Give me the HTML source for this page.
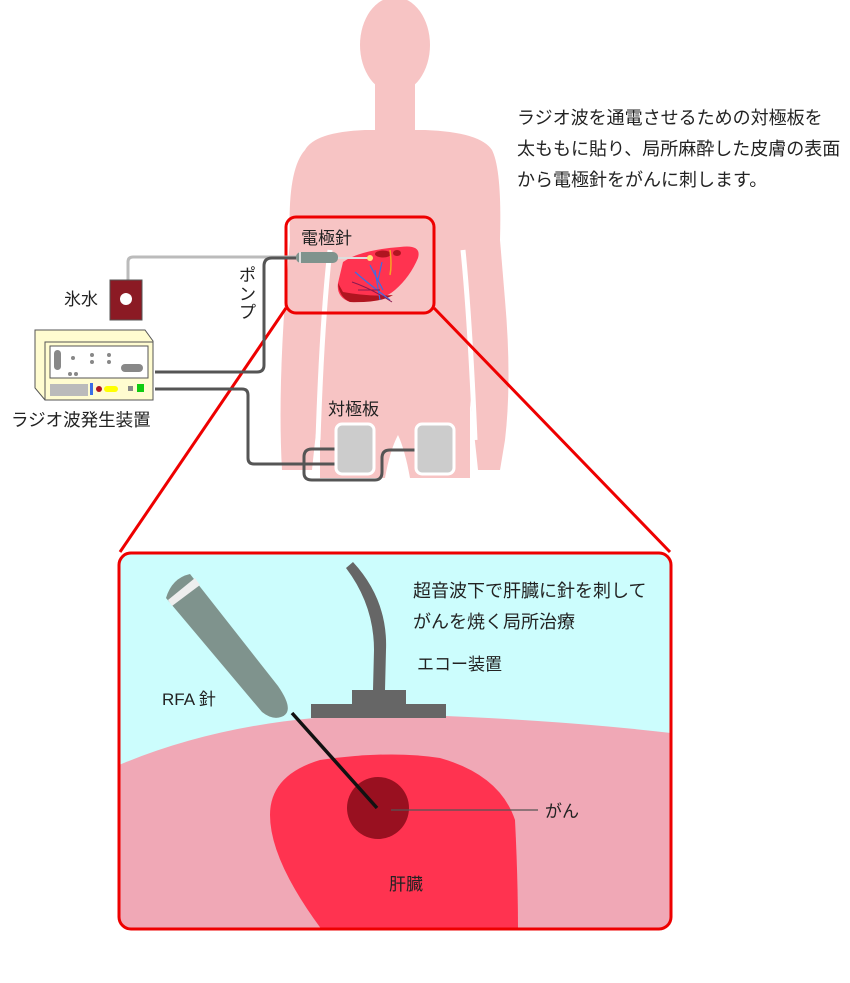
<!DOCTYPE html>
<html><head><meta charset="utf-8"><style>
body{margin:0;background:#fff;width:850px;height:978px;overflow:hidden}
svg text{font-family:"Liberation Sans","Noto Sans CJK JP",sans-serif;fill:#222}
</style></head><body>
<svg width="850" height="978" viewBox="0 0 850 978" xmlns="http://www.w3.org/2000/svg">
<g fill="#f7c4c4">
<ellipse cx="395" cy="45" rx="35" ry="48"/>
<rect x="375" y="75" width="40" height="65"/>
<path d="M305 150 Q315 132 365 130 L425 130 Q480 132 492 150 Q502 170 500 240 L505 300 Q512 380 505 440 L500 470 L478 470 Q475 440 470 400 L470 478 L410 478 Q405 450 398 435 Q390 450 385 478 L320 478 L320 400 Q315 440 312 470 L282 470 Q278 400 285 300 L290 240 Q287 170 305 150Z"/>
</g>
<path d="M330 250 Q322 320 318 440" stroke="#fff" stroke-width="5" fill="none"/>
<path d="M463 250 Q470 320 475 440" stroke="#fff" stroke-width="5" fill="none"/>
<text x="517" y="124" font-size="18">ラジオ波を通電させるための対極板を</text>
<text x="517" y="155" font-size="18">太ももに貼り、局所麻酔した皮膚の表面</text>
<text x="517" y="186" font-size="18">から電極針をがんに刺します。</text>
<path d="M343 262 Q360 250 400 247 Q422 244 418 258 Q410 277 395 290 Q380 303 350 302 Q336 297 338 283Z" fill="#ff3350"/>
<path d="M338 283 Q339 297 350 302 Q380 303 393 295 Q370 297 343 292Z" fill="#b01520"/>
<ellipse cx="383" cy="254" rx="8" ry="3.5" fill="#b01520"/>
<ellipse cx="397" cy="253" rx="4" ry="3" fill="#b01520"/>
<path d="M390 250 Q392 265 390 275" stroke="#f5a623" stroke-width="1.5" fill="none"/>
<path d="M375 270 L380 300 M370 265 L383 290 M355 272 Q370 285 390 300 M382 262 L378 280" stroke="#3b6ee6" stroke-width="1.2" fill="none"/>
<path d="M352 282 Q370 288 392 302 M358 290 L380 290" stroke="#8a1a50" stroke-width="1" fill="none"/>
<line x1="336" y1="258" x2="370" y2="258" stroke="#ddd" stroke-width="2"/>
<circle cx="370" cy="258" r="3" fill="#ffe27a"/>
<rect x="296" y="252" width="42" height="11" rx="5" fill="#7f938d"/>
<rect x="299" y="252" width="2" height="11" fill="#ddd"/>
<rect x="286" y="217" width="148" height="96" rx="10" fill="none" stroke="#e00" stroke-width="3"/>
<text x="301" y="244" font-size="17">電極針</text>
<line x1="286" y1="308" x2="120" y2="552" stroke="#e00" stroke-width="3"/>
<line x1="434" y1="308" x2="670" y2="552" stroke="#e00" stroke-width="3"/>
<path d="M296 257 L133 257 Q128 257 128 262 L128 280" stroke="#bbb" stroke-width="3" fill="none"/>
<path d="M296 258 L272 258 Q264 258 264 266 L264 365 Q264 372 257 372 L155 372" stroke="#555" stroke-width="3" fill="none"/>
<path d="M155 389 L242 389 Q248 389 248 395 L248 458 Q248 464 254 464 L340 464" stroke="#555" stroke-width="3" fill="none"/>
<path d="M340 449 L312 449 Q304 449 304 457 L304 473 Q304 480 312 480 L375 480 Q382 480 382 472 L382 458 Q382 450 390 450 L420 450" stroke="#555" stroke-width="3" fill="none"/>
<rect x="336" y="424" width="38" height="50" rx="6" fill="#ccc" stroke="#fff" stroke-width="3"/>
<rect x="416" y="424" width="38" height="50" rx="6" fill="#ccc" stroke="#fff" stroke-width="3"/>
<text x="328" y="415" font-size="17">対極板</text>
<text x="239" y="281" font-size="17">ポ</text>
<text x="239" y="300" font-size="17">ン</text>
<text x="239" y="318" font-size="17">プ</text>
<rect x="110" y="280" width="32" height="40" fill="#8b1a24" stroke="#555" stroke-width="1"/>
<circle cx="126" cy="299" r="6" fill="#fff"/>
<text x="64" y="305" font-size="17">氷水</text>
<path d="M35 330 L145 330 L153 341 L153 400 L45 400 L35 388Z" fill="#fffcd0" stroke="#555"/>
<rect x="45" y="342" width="108" height="58" fill="#fffcd0" stroke="#555"/>
<rect x="50" y="346" width="98" height="32" fill="#fff" stroke="#555"/>
<rect x="54" y="350" width="7" height="20" rx="3.5" fill="#888"/>
<rect x="121" y="364" width="22" height="8" rx="4" fill="#888"/>
<g fill="#888"><circle cx="73" cy="358" r="2"/><circle cx="92" cy="355" r="2"/><circle cx="92" cy="362" r="2"/><circle cx="109" cy="355" r="2"/><circle cx="109" cy="362" r="2"/><circle cx="70" cy="374" r="2"/><circle cx="76" cy="374" r="2"/></g>
<rect x="50" y="384" width="38" height="12" fill="#bbb"/>
<rect x="90" y="383" width="3" height="12" fill="#3b6ee6"/>
<circle cx="99" cy="389" r="3" fill="#b01520"/>
<rect x="104" y="386" width="14" height="6" rx="3" fill="#ff0"/>
<rect x="128" y="386" width="5" height="5" fill="#888"/>
<rect x="137" y="384" width="7" height="8" fill="#1c1"/>
<text x="11" y="426" font-size="17.5">ラジオ波発生装置</text>
<defs><clipPath id="c"><rect x="119" y="553" width="552" height="376" rx="12"/></clipPath></defs>
<g clip-path="url(#c)">
<rect x="119" y="553" width="552" height="376" fill="#ccfdfd"/>
<path d="M119 765 Q250 710 420 715 Q560 720 671 733 L671 930 L119 930Z" fill="#f0a8b6"/>
<path d="M270 815 Q270 775 320 760 Q390 750 440 758 Q500 775 515 820 Q518 880 518 930 L322 930 Q270 860 270 815Z" fill="#ff3350"/>
<circle cx="378" cy="808" r="31" fill="#991020"/>
<line x1="391" y1="810" x2="538" y2="810" stroke="#555" stroke-width="1.2"/>
<line x1="292" y1="713" x2="377" y2="808" stroke="#111" stroke-width="3.5"/>
<path d="M166 598 Q172 578 190 574 L278 686 Q296 712 281 717 Q272 720 262 712 Z" fill="#7f938d"/>
<path d="M168 600 L195 578 L200 585 L172 606Z" fill="#eee"/>
<path d="M346 568 L353 562 Q388 600 386 650 L385 690 L373 690 L374 650 Q374 605 346 568Z" fill="#666"/>
<rect x="352" y="690" width="54" height="14" fill="#666"/>
<rect x="311" y="704" width="135" height="14" fill="#666"/>
</g>
<rect x="119" y="553" width="552" height="376" rx="12" fill="none" stroke="#e00" stroke-width="3"/>
<text x="413" y="597" font-size="18">超音波下で肝臓に針を刺して</text>
<text x="413" y="628" font-size="18">がんを焼く局所治療</text>
<text x="417" y="670" font-size="17">エコー装置</text>
<text x="162" y="705" font-size="17">RFA 針</text>
<text x="545" y="817" font-size="17">がん</text>
<text x="389" y="890" font-size="17">肝臓</text>
</svg>
</body></html>
